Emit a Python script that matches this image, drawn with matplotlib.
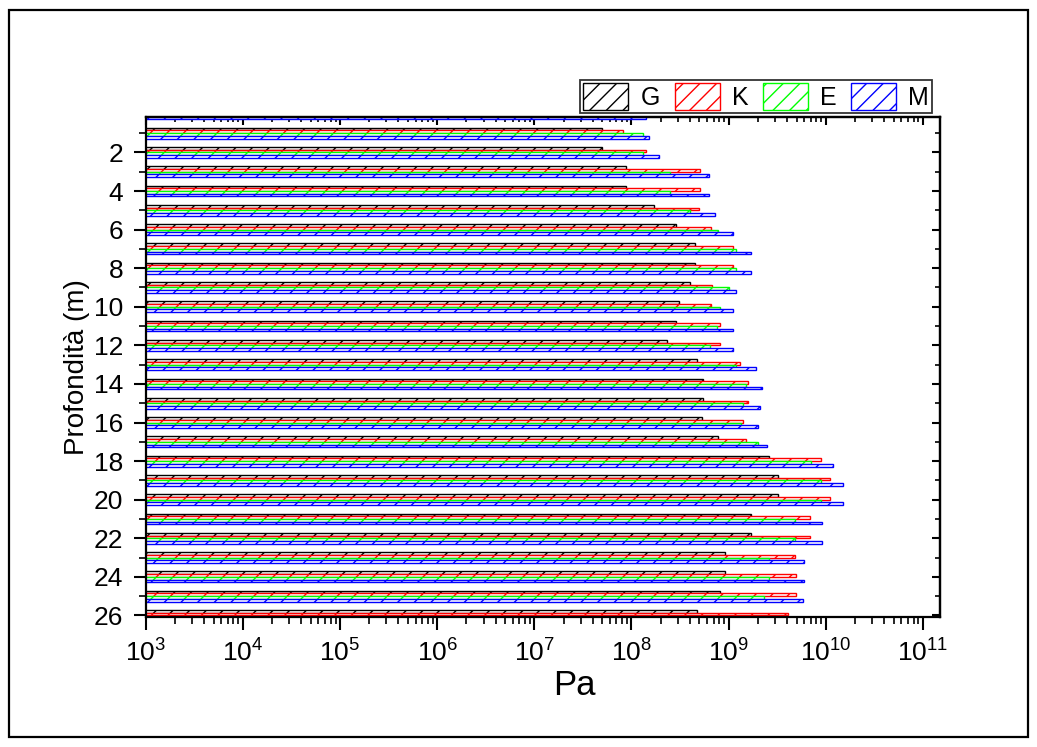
import numpy as np
import matplotlib
matplotlib.use('Agg')
import matplotlib.pyplot as plt
from matplotlib.patches import Patch, Rectangle
from matplotlib.ticker import NullFormatter

plt.rcParams['font.family'] = ['Liberation Sans', 'DejaVu Sans']
plt.rcParams['mathtext.default'] = 'regular'
plt.rcParams['hatch.linewidth'] = 1.0

nan = np.nan

# moduli per profondità (Pa)
depth = np.arange(0, 27)
G = [nan, 5.0e7, 5.0e7, 8.8e7, 8.8e7, 1.7e8, 2.9e8, 4.5e8, 4.5e8, 4.0e8, 3.1e8, 2.9e8, 2.3e8, 4.7e8,
     5.5e8, 5.5e8, 5.3e8, 7.7e8, 2.6e9, 3.2e9, 3.2e9, 1.7e9, 1.7e9, 9.1e8, 9.1e8, 8.1e8, 4.7e8]
K = [nan, 8.2e7, 1.4e8, 5.1e8, 5.1e8, 5.0e8, 6.6e8, 1.1e9, 1.1e9, 6.8e8, 6.6e8, 8.1e8, 8.1e8, 1.3e9,
     1.6e9, 1.6e9, 1.4e9, 1.5e9, 8.9e9, 1.1e10, 1.1e10, 6.8e9, 6.8e9, 4.8e9, 4.9e9, 4.9e9, 4.1e9]
E = [nan, 1.3e8, 1.3e8, 2.5e8, 2.5e8, 4.0e8, 7.7e8, 1.2e9, 1.2e9, 1.0e9, 8.1e8, 7.6e8, 6.5e8, 1.2e9,
     1.5e9, 1.4e9, 1.35e9, 2.0e9, 7.0e9, 8.9e9, 8.9e9, 4.8e9, 4.8e9, 2.6e9, 2.6e9, 2.3e9, nan]
M = [1.4e8, 1.5e8, 1.9e8, 6.3e8, 6.3e8, 7.2e8, 1.1e9, 1.7e9, 1.7e9, 1.2e9, 1.1e9, 1.1e9, 1.1e9, 1.9e9,
     2.2e9, 2.1e9, 2.0e9, 2.5e9, 1.2e10, 1.5e10, 1.5e10, 9.2e9, 9.2e9, 5.9e9, 5.9e9, 5.8e9, nan]

series = [('G', G, 'black'), ('K', K, 'red'), ('E', E, '#00ff00'), ('M', M, 'blue')]

# tacche: decadi da 10^3 a 10^11, profondità pari con etichetta
x_major = 10.0 ** np.arange(3, 12)
x_minor = np.array([m * d for d in 10.0 ** np.arange(3, 12) for m in range(2, 10)])
x_minor = x_minor[x_minor <= 1.5e11]
y_major = np.arange(2, 27, 2)
y_minor = np.arange(1, 26, 2)

fig = plt.figure(figsize=(10.37, 7.47), dpi=100)
ax = fig.add_axes([0.1405, 0.174, 0.766, 0.670])

h = 0.14
offsets = [-1.5 * h, -0.5 * h, 0.5 * h, 1.5 * h]
handles = []
for (name, vals, col), off in zip(series, offsets):
    ax.barh(depth + off, vals, height=h, left=1, facecolor='white', edgecolor=col,
            hatch='//', linewidth=1.0)
    handles.append(Patch(facecolor='white', edgecolor=col, hatch='//', linewidth=1.0, label=name))

ax.set_xscale('log')
ax.set_xlim(1e3, 1.5e11)
ax.set_ylim(26.08, 0.14)

ax.set_xticks(x_major)
ax.set_xticks(x_minor, minor=True)
ax.xaxis.set_minor_formatter(NullFormatter())
ax.set_yticks(y_major)
ax.set_yticks(y_minor, minor=True)

ax.tick_params(which='major', direction='out', length=9, width=1.5, labelsize=19, pad=7)
ax.tick_params(which='minor', direction='out', length=5, width=1.2)
for s in ax.spines.values():
    s.set_linewidth(1.6)

# assi secondari: tacche verso l'interno in alto e a destra
top = ax.secondary_xaxis('top')
top.set_xticks(x_major)
top.set_xticks(x_minor, minor=True)
top.tick_params(which='major', direction='in', length=6, width=1.5, labeltop=False)
top.tick_params(which='minor', direction='in', length=3.5, width=1.2, labeltop=False)
top.spines['top'].set_linewidth(1.6)

right = ax.secondary_yaxis('right')
right.set_yticks(y_major)
right.set_yticks(y_minor, minor=True)
right.tick_params(which='major', direction='in', length=6, width=1.5, labelright=False)
right.tick_params(which='minor', direction='in', length=3.5, width=1.2, labelright=False)
right.spines['right'].set_linewidth(1.6)

ax.set_xlabel('Pa', fontsize=25)
ax.xaxis.set_label_coords(0.54, -0.103)
ax.set_ylabel('Profondità (m)', fontsize=20)
ax.yaxis.set_label_coords(-0.07, 0.5)

leg = fig.legend(handles=handles, loc='lower right', bbox_to_anchor=(932 / 1037, 1 - 113 / 747),
                 bbox_transform=fig.transFigure, ncol=4, fontsize=18, frameon=True, fancybox=False,
                 handlelength=1.8, handleheight=1.3, handletextpad=0.48, columnspacing=0.59,
                 borderaxespad=0, borderpad=0.12)
leg.get_frame().set_edgecolor('black')
leg.get_frame().set_linewidth(1.3)

# cornice esterna della figura
fig.patches.append(Rectangle((9 / 1037, 10 / 747), 1019 / 1037, 727 / 747, transform=fig.transFigure,
                             fill=False, edgecolor='black', linewidth=1.6))

fig.savefig('out.png', dpi=100)
